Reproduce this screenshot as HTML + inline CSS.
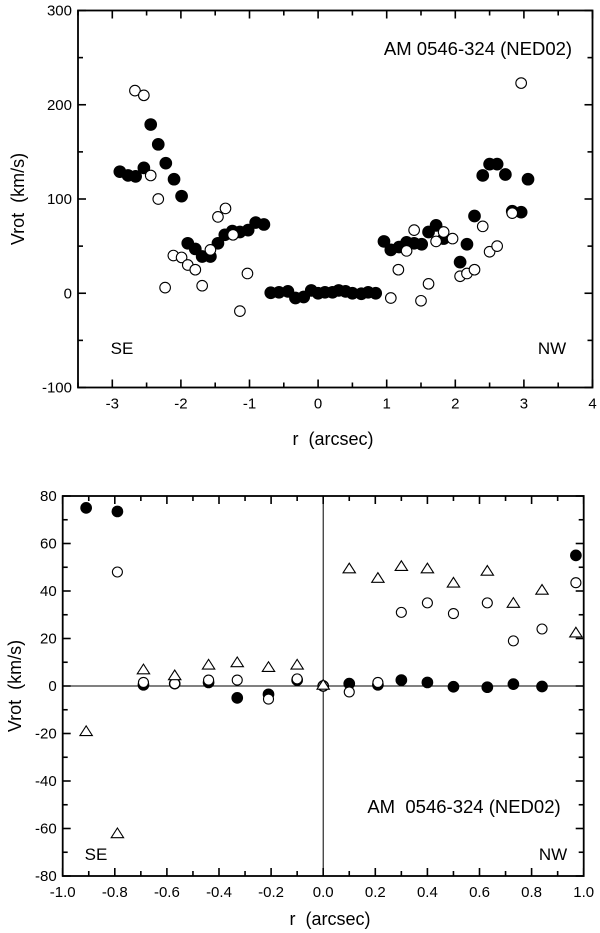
<!DOCTYPE html>
<html><head><meta charset="utf-8"><style>
body{margin:0;background:#fff}
svg{display:block;font-family:"Liberation Sans",Arial,sans-serif}
text{white-space:pre}
</style></head><body>
<svg id="c" width="600" height="933" viewBox="0 0 600 933"></svg>
<script>
// Top chart data
const topFilledR=[-2.89,-2.77,-2.66,-2.54,-2.44,-2.33,-2.22,-2.10,-1.99,-1.90,-1.79,-1.69,-1.57,-1.46,-1.36,-1.25,-1.14,-1.02,-0.91,-0.79,-0.69,-0.57,-0.44,-0.33,-0.21,-0.10,0,0.10,0.21,0.30,0.40,0.50,0.63,0.73,0.84,0.96,1.06,1.18,1.29,1.40,1.51,1.61,1.72,1.83,2.07,2.17,2.28,2.40,2.50,2.61,2.73,2.83,2.96,3.06];
const topFilledV=[129,125,124,133,179,158,138,121,103,53,47,39,39,53,62,66,65,67,75,73,0.5,1,2,-5,-4,3,0,1,1,3,2,0,-0.5,1,0,55,46,49,54,53,52,65,72,58,33,52,82,125,137,137,126,87,86,121];
const topOpenR=[-2.67,-2.54,-2.44,-2.33,-2.23,-2.11,-1.99,-1.90,-1.79,-1.69,-1.57,-1.46,-1.35,-1.24,-1.14,-1.03,1.06,1.17,1.29,1.40,1.50,1.61,1.72,1.83,1.96,2.07,2.17,2.28,2.40,2.50,2.61,2.83,2.96];
const topOpenV=[215,210,125,100,6,40,38,30,25,8,46,81,90,62,-19,21,-5,25,45,67,-8,10,55,65,58,18,21,25,71,44,50,85,223];
const topXTicks=[-3,-2,-1,0,1,2,3,4];
const topYTicks=[-100,0,100,200,300];
// Bottom chart data
const botR=[-0.91,-0.79,-0.69,-0.57,-0.44,-0.33,-0.21,-0.10,0,0.10,0.21,0.30,0.40,0.50,0.63,0.73,0.84,0.97];
const botFilledV=[75,73.5,0.5,1,1.5,-5,-3.5,2.5,0,1,0.5,2.5,1.5,-0.3,-0.5,0.8,-0.2,55];
const botOpenR=[-0.79,-0.69,-0.57,-0.44,-0.33,-0.21,-0.10,0,0.10,0.21,0.30,0.40,0.50,0.63,0.73,0.84,0.97];
const botOpenV=[48,1.5,1,2.5,2.5,-5.5,3,0,-2.5,1.5,31,35,30.5,35,19,24,43.5];
const botTriV=[-19.5,-62.5,6.5,4,8.5,9.5,7.5,8.5,0,49,45,50,49,43,48,34.5,40,22];
const botXTicks=[-1.0,-0.8,-0.6,-0.4,-0.2,0.0,0.2,0.4,0.6,0.8,1.0];
const botYTicks=[-80,-60,-40,-20,0,20,40,60,80];

const svg=document.getElementById('c');
const NS='http://www.w3.org/2000/svg';
function mk(tag,attrs,parent){const e=document.createElementNS(NS,tag);for(const k in attrs)e.setAttribute(k,attrs[k]);(parent||svg).appendChild(e);return e;}
function txt(s,x,y,size,anchor,parent){const t=mk('text',{x:x,y:y,'font-size':size,'text-anchor':anchor||'middle',fill:'#000'},parent);t.textContent=s;return t;}

function axes(g,L,R,T,B,xs,ys,xt,yt,xMinorStep,yMinorStep,xmin,xmax,ymin,ymax,fmtX,fmtY){
  mk('rect',{x:L,y:T,width:R-L,height:B-T,fill:'none',stroke:'#000','stroke-width':1.8},g);
  const nx=Math.round((xmax-xmin)/xMinorStep), ny=Math.round((ymax-ymin)/yMinorStep);
  for(let i=0;i<=nx;i++){const v=xmin+i*xMinorStep;const x=xs(v);const maj=xt.some(t=>Math.abs(t-v)<1e-6);const len=maj?8:5;
    mk('line',{x1:x,y1:B,x2:x,y2:B-len,stroke:'#000','stroke-width':1.6},g);
    mk('line',{x1:x,y1:T,x2:x,y2:T+len,stroke:'#000','stroke-width':1.6},g);}
  for(let i=0;i<=ny;i++){const v=ymin+i*yMinorStep;const y=ys(v);const maj=yt.some(t=>Math.abs(t-v)<1e-6);const len=maj?8:5;
    mk('line',{x1:L,y1:y,x2:L+len,y2:y,stroke:'#000','stroke-width':1.6},g);
    mk('line',{x1:R,y1:y,x2:R-len,y2:y,stroke:'#000','stroke-width':1.6},g);}
  xt.forEach(v=>{const t=txt(fmtX(v),xs(v),B+21,15,'middle',g);});
  yt.forEach(v=>{const t=txt(fmtY(v),L-6,ys(v)+5,15,'end',g);});
}
function circle(g,x,y,r,filled,name){const c=mk('circle',{cx:x,cy:y,r:r,fill:filled?'#000':'#fff',stroke:'#000','stroke-width':1.1},g);
  
  }
function tri(g,x,y,s,name){const h=s*0.87;const p=mk('polygon',{points:`${x-s},${y+h*0.6} ${x+s},${y+h*0.6} ${x},${y-h*1.2}`,fill:'#fff',stroke:'#000','stroke-width':1.1},g);
  
  }

// ===== Top chart =====
const g1=mk('g',{});


const L1=78,R1=592.5,T1=10.5,B1=387.5;
const x1=v=>L1+(v+3.5)/7.5*(R1-L1);
const y1=v=>B1-(v+100)/400*(B1-T1);
axes(g1,L1,R1,T1,B1,x1,y1,topXTicks,topYTicks,0.5,50,-3.5,4,-100,300,v=>String(v),v=>String(v));
topFilledR.forEach((r,i)=>circle(g1,x1(r),y1(topFilledV[i]),5.8,true,'top-filled-point'));
topOpenR.forEach((r,i)=>circle(g1,x1(r),y1(topOpenV[i]),5.3,false,'top-open-point'));
let t;
t=txt('AM 0546-324 (NED02)',478,55,18.5,'middle',g1);
t=txt('SE',122,354,17,'middle',g1);
t=txt('NW',552,354,17,'middle',g1);
t=txt('r  (arcsec)',333,445,18,'middle',g1);
t=txt('Vrot  (km/s)',0,0,18,'middle',g1);t.setAttribute('transform','translate(24,199) rotate(-90)');

// ===== Bottom chart =====
const g2=mk('g',{});


const L2=62.7,R2=583.7,T2=496,B2=876;
const x2=v=>L2+(v+1)/2*(R2-L2);
const y2=v=>B2-(v+80)/160*(B2-T2);
axes(g2,L2,R2,T2,B2,x2,y2,botXTicks,botYTicks,0.1,10,-1,1,-80,80,v=>v.toFixed(1),v=>String(v));
mk('line',{x1:L2,y1:y2(0),x2:R2,y2:y2(0),stroke:'#000','stroke-width':1},g2);
mk('line',{x1:x2(0),y1:T2,x2:x2(0),y2:B2,stroke:'#000','stroke-width':1},g2);
botR.forEach((r,i)=>circle(g2,x2(r),y2(botFilledV[i]),5.3,true,'bottom-filled-point'));
botOpenR.forEach((r,i)=>circle(g2,x2(r),y2(botOpenV[i]),5,false,'bottom-open-point'));
botR.forEach((r,i)=>tri(g2,x2(r),y2(botTriV[i]),6.2,'bottom-triangle-point'));
t=txt('AM  0546-324 (NED02)',464,813,18.5,'middle',g2);
t=txt('SE',96,860,17,'middle',g2);
t=txt('NW',553,860,17,'middle',g2);
t=txt('r  (arcsec)',330,925,18,'middle',g2);
t=txt('Vrot  (km/s)',0,0,18,'middle',g2);t.setAttribute('transform','translate(21,686) rotate(-90)');
</script>
</body></html>
